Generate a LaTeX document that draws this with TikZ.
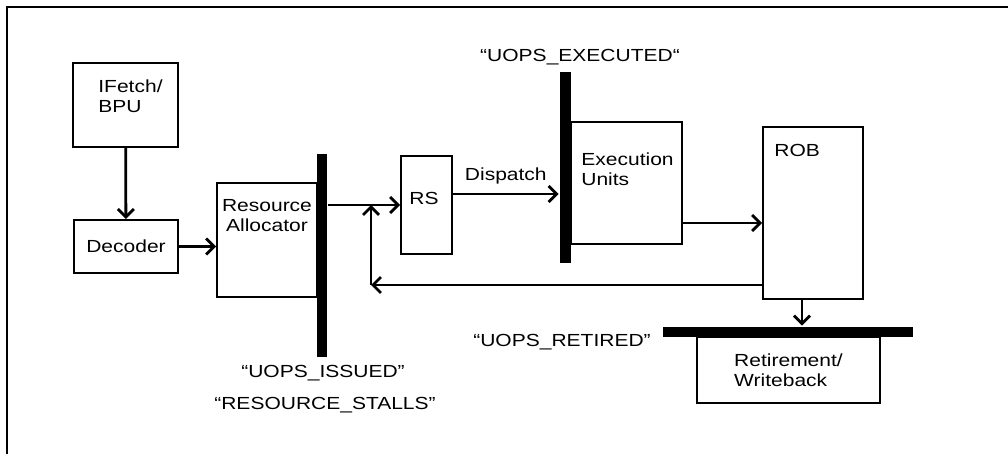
\documentclass[tikz,border=0pt]{standalone}
\usepackage{fontspec}
\setmainfont{Liberation Sans}[FakeStretch=1.2]
\usetikzlibrary{arrows.meta}
\tikzset{
  blk/.style={draw, line width=2pt, inner sep=0pt},
  bar/.style={fill=black, inner sep=0pt},
  txt/.style={inner sep=0pt, align=left},
}

\begin{document}
\begin{tikzpicture}[x=1pt, y=-1pt, >={Straight Barb[length=8pt,width=16pt]},
    font=\fontsize{17.5}{20.5}\selectfont, line width=2.8pt]
    \useasboundingbox (0,0) rectangle (1008,454);
    % Rahmen
    \draw[line width=2.5pt] (7,454) -- (7,7) -- (1008,7);
    % Bloecke
    \node[blk, minimum width=105, minimum height=84] (ifetch) at (125.5,105) {};
    \node[blk, minimum width=104, minimum height=53] (decoder) at (126,246.5) {Decoder};
    \node[blk, minimum width=100, minimum height=114] (alloc) at (267,240) {};
    \node[blk, minimum width=51, minimum height=98] (rs) at (426.5,205) {};
    \node[blk, minimum width=111, minimum height=122] (exec) at (626.5,183) {};
    \node[blk, minimum width=100, minimum height=172] (rob) at (813,213) {};
    \node[blk, minimum width=183, minimum height=66, align=left] (retire) at (788.5,370) {Retirement/\\Writeback};
    % Balken
    \node[bar, minimum width=10, minimum height=203] (bar1) at (322,255.5) {};
    \node[bar, minimum width=11, minimum height=191] (bar2) at (565.5,167.5) {};
    \node[bar, minimum width=250, minimum height=10] (bar3) at (788,332) {};
    % Beschriftungen
    \node[txt, anchor=north west] (ifetchtxt) at (97,78) {IFetch/\\BPU};
    \node[txt, anchor=north, align=center] (alloctxt) at (267,198) {Resource\\Allocator};
    \node[txt, anchor=north] (rstxt) at (424,191) {RS};
    \node[txt, anchor=north west] (exectxt) at (580,151) {Execution\\Units};
    \node[txt, anchor=north west] (robtxt) at (773,143) {ROB};
    \node[txt] (executed) at (580,57) {“UOPS\_EXECUTED“};
    \node[txt] (issued) at (323,373) {“UOPS\_ISSUED”};
    \node[txt] (stalls) at (325,405) {“RESOURCE\_STALLS”};
    \node[txt] (retired) at (562,342) {“UOPS\_RETIRED”};
    % Pfeile
    \coordinate (dp) at ([yshift=11pt]rs.east);
    \coordinate (ex) at ([yshift=-40pt]exec.east);
    \coordinate (rt) at ([xshift=-11pt]rob.south);
    \coordinate (fb) at (371,285);
    \draw[->] (ifetch) -- (decoder);
    \draw[->] (decoder) -- (decoder -| alloc.west);
    \draw[->] (rs.west -| bar1.east) -- (rs.west);
    \draw[->] (dp) -- (dp -| bar2.west) node[midway, above=5pt] (disp) {Dispatch};
    \draw[->] (ex) -- (ex -| rob.west);
    \draw[->] (rt) -- (rt |- bar3.north);
    \draw[->] (fb -| rob.west) -- (fb);
    \draw[->] (fb) -- (fb |- rs.west);
\end{tikzpicture}
\end{document}
